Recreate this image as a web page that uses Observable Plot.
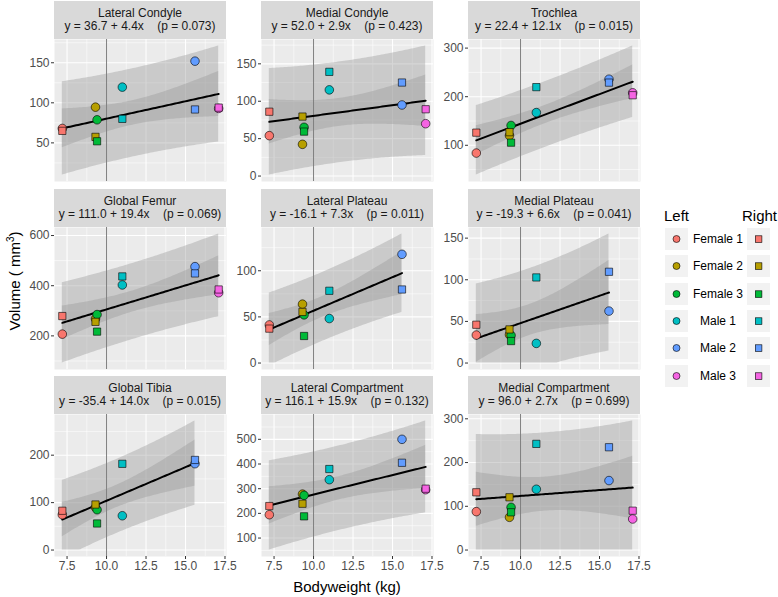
<!DOCTYPE html>
<html>
<head>
<meta charset="utf-8">
<script src="https://cdn.jsdelivr.net/npm/d3@7"></script>
<script src="https://cdn.jsdelivr.net/npm/@observablehq/plot@0.6"></script>
<style>
  body { margin: 0; background: #fff; }
  #chart { position: relative; width: 778px; height: 597px; overflow: hidden; background: #fff;
           font-family: "Liberation Sans", Arial, sans-serif; }
  .strip { position: absolute; background: #d9d9d9; color: #1a1a1a; font-size: 12px; text-align: center;
           white-space: pre; display: flex; flex-direction: column; justify-content: center; line-height: 13px; }
  .panel { position: absolute; overflow: visible; }
  .title { position: absolute; color: #000; font-size: 15px; white-space: nowrap; }
  .lab { position: absolute; color: #000; font-size: 12px; white-space: nowrap; transform: translate(-50%, -50%); }
  .key { position: absolute; width: 23px; height: 22px; background: #f2f2f2; }
</style>
</head>
<body>
<div id="chart"></div>
<script>
// ---------------- data ----------------
const subjects = ["Female 1", "Female 2", "Female 3", "Male 1", "Male 2", "Male 3"];
const subjectColors = ["#F8766D", "#B79F00", "#00BA38", "#00BFC4", "#619CFF", "#F564E3"];
const bodyweight = [7.2, 9.3, 9.4, 11.0, 15.6, 17.1];
const referenceWeight = [10];

const regions = ["Lateral Condyle", "Medial Condyle", "Trochlea",
                 "Global Femur", "Lateral Plateau", "Medial Plateau",
                 "Global Tibia", "Lateral Compartment", "Medial Compartment"];
const equations = ["y = 36.7 + 4.4x    (p = 0.073)", "y = 52.0 + 2.9x    (p = 0.423)", "y = 22.4 + 12.1x    (p = 0.015)",
                   "y = 111.0 + 19.4x    (p = 0.069)", "y = -16.1 + 7.3x    (p = 0.011)", "y = -19.3 + 6.6x    (p = 0.041)",
                   "y = -35.4 + 14.0x    (p = 0.015)", "y = 116.1 + 15.9x    (p = 0.132)", "y = 96.0 + 2.7x    (p = 0.699)"];

// volumes (mm^3), one row per region, in subject order; null = missing
const leftVolume = [
  [68, 94.6, 78.8, 119.6, 152, 93],
  [54, 42.4, 65.2, 115.2, 95, 70],
  [84, 120, 140.8, 167.3, 236, 208],
  [207, 268, 285, 403, 476, 372],
  [41.3, 63.8, 52.2, 48.2, 117.8, null],
  [33.6, 34, 33.2, 23.6, 62.4, null],
  [74.4, 90, 85, 72.3, 182, null],
  [194.6, 278, 273, 336.5, 500, 296],
  [87.8, 74.8, 97.7, 139, 158.8, 71]
];
const rightVolume = [
  [65, 57.5, 52, 80, 91.7, 94],
  [86, 79.5, 59.4, 139.3, 125, 89.3],
  [126, 127, 105.4, 219.7, 229, 203],
  [279, 256, 217, 437, 449, 385],
  [37.3, 55.4, 29.3, 78.3, 79.7, null],
  [46, 40.4, 26.4, 102.8, 109.6, null],
  [82.8, 96, 56, 181.8, 190, null],
  [229.7, 239, 188, 379.7, 405, 300],
  [132, 120.6, 86.3, 242.7, 235, 90]
];

const yTicks = [
  [50, 100, 150], [0, 50, 100, 150], [100, 200, 300],
  [200, 400, 600], [0, 50, 100], [0, 50, 100, 150],
  [0, 100, 200], [100, 200, 300, 400, 500], [0, 100, 200, 300]
];
const xTicks = [7.5, 10, 12.5, 15, 17.5];
const tQuantile975 = {8: 2.306004, 9: 2.262157, 10: 2.228139};

// ---------------- layout ----------------
const colLeft = [54, 261, 468];
const panelTop = [39, 227, 414];
const PW = 172, PH = 142, STRIP = 38, ML = 40, MB = 22;
const font = '"Liberation Sans", Arial, sans-serif';

const chart = document.getElementById("chart");

const [bwMin, bwMax] = d3.extent(bodyweight);
const xPad = (bwMax - bwMin) * 0.05;
const xDomain = [bwMin - xPad, bwMax + xPad];

function minorOf(ticks, domain) {
  const step = ticks[1] - ticks[0];
  const out = [ticks[0] - step / 2];
  for (const t of ticks) out.push(t + step / 2);
  return out.filter(v => v > domain[0] && v < domain[1]);
}

function regression(pts) {
  const n = pts.length;
  const xbar = d3.mean(pts, d => d.w), ybar = d3.mean(pts, d => d.v);
  const sxx = d3.sum(pts, d => (d.w - xbar) ** 2);
  const sxy = d3.sum(pts, d => (d.w - xbar) * (d.v - ybar));
  const b = sxy / sxx, a = ybar - b * xbar;
  const sse = d3.sum(pts, d => (d.v - a - b * d.w) ** 2);
  const s = Math.sqrt(sse / (n - 2));
  const t = tQuantile975[n - 2] || 2.228;
  const [x0, x1] = d3.extent(pts, d => d.w);
  return d3.range(80).map(i => {
    const x = x0 + (x1 - x0) * i / 79;
    const fit = a + b * x;
    const h = 1 / n + (x - xbar) ** 2 / sxx;
    const ci = t * s * Math.sqrt(h), pi = t * s * Math.sqrt(1 + h);
    return {x, fit, ciLo: Math.max(0, fit - ci), ciHi: fit + ci, piLo: Math.max(0, fit - pi), piHi: fit + pi};
  });
}

regions.forEach((region, k) => {
  const row = Math.floor(k / 3), col = k % 3;
  const left = subjects.map((s, i) => ({subject: s, w: bodyweight[i], v: leftVolume[k][i]})).filter(d => d.v != null);
  const right = subjects.map((s, i) => ({subject: s, w: bodyweight[i], v: rightVolume[k][i]})).filter(d => d.v != null);
  const all = left.concat(right);
  const band = regression(all);
  const lo = Math.min(d3.min(band, d => d.piLo), d3.min(all, d => d.v));
  const hi = Math.max(d3.max(band, d => d.piHi), d3.max(all, d => d.v));
  const yPad = (hi - lo) * 0.05;
  const yDomain = [lo - yPad, hi + yPad];
  const bottom = row === 2;

  const strip = document.createElement("div");
  strip.className = "strip";
  Object.assign(strip.style, {left: colLeft[col] + "px", top: (panelTop[row] - STRIP) + "px", width: PW + "px", height: STRIP + "px"});
  const l1 = document.createElement("div"); l1.textContent = region;
  const l2 = document.createElement("div"); l2.textContent = equations[k];
  strip.append(l1, l2);
  chart.append(strip);

  const svg = Plot.plot({
    width: ML + PW,
    height: PH + (bottom ? MB : 0),
    marginLeft: ML, marginRight: 0, marginTop: 0, marginBottom: bottom ? MB : 0,
    style: {fontFamily: font, fontSize: "12px", color: "#4d4d4d", background: "transparent", overflow: "visible"},
    x: {domain: xDomain, axis: null},
    y: {domain: yDomain, axis: null},
    color: {domain: subjects, range: subjectColors},
    marks: [
      Plot.frame({fill: "#ebebeb", stroke: null}),
      Plot.ruleY(minorOf(yTicks[k], yDomain), {stroke: "white", strokeWidth: 0.55}),
      Plot.ruleX(minorOf(xTicks, xDomain), {stroke: "white", strokeWidth: 0.55}),
      Plot.ruleY(yTicks[k].filter(v => v > yDomain[0] && v < yDomain[1]), {stroke: "white", strokeWidth: 1.1}),
      Plot.ruleX(xTicks.filter(v => v > xDomain[0] && v < xDomain[1]), {stroke: "white", strokeWidth: 1.1}),
      Plot.areaY(band, {x: "x", y1: "piLo", y2: "piHi", fill: "#999999", fillOpacity: 0.4}),
      Plot.areaY(band, {x: "x", y1: "ciLo", y2: "ciHi", fill: "#999999", fillOpacity: 0.4}),
      Plot.ruleX(referenceWeight, {stroke: "#7f7f7f", strokeWidth: 1}),
      Plot.line(band, {x: "x", y: "fit", stroke: "black", strokeWidth: 2}),
      Plot.dot(left, {x: "w", y: "v", fill: "subject", symbol: "circle", r: 4.3, stroke: "black", strokeWidth: 0.6}),
      Plot.dot(right, {x: "w", y: "v", fill: "subject", symbol: "square", r: 4.1, stroke: "black", strokeWidth: 0.6}),
      Plot.axisY({ticks: yTicks[k].filter(v => v >= yDomain[0] && v <= yDomain[1]), tickSize: 3, tickPadding: 2, label: null, stroke: "#333"}),
      bottom ? Plot.axisX({ticks: xTicks, tickSize: 3, tickPadding: 2, tickFormat: d3.format(".1f"), label: null, stroke: "#333"}) : null
    ]
  });
  svg.classList.add("panel");
  svg.style.left = (colLeft[col] - ML) + "px";
  svg.style.top = panelTop[row] + "px";
  chart.append(svg);
});

const xt = document.createElement("div");
xt.className = "title";
xt.textContent = "Bodyweight (kg)";
Object.assign(xt.style, {left: (colLeft[0] + (colLeft[2] + PW - colLeft[0]) / 2) + "px", top: "586px", transform: "translate(-50%, -50%)"});
chart.append(xt);

const yt = document.createElement("div");
yt.className = "title";
yt.innerHTML = 'Volume ( mm<sup style="font-size:10px;vertical-align:6px;line-height:0">3</sup>)';
Object.assign(yt.style, {left: "14px", top: "281px", transform: "translate(-50%, -50%) rotate(-90deg)"});
chart.append(yt);

const legTitleY = 215;
[["Left", 664], ["Right", 742]].forEach(([t, x]) => {
  const d = document.createElement("div");
  d.className = "title";
  d.textContent = t;
  Object.assign(d.style, {left: x + "px", top: legTitleY + "px", transform: "translateY(-50%)"});
  chart.append(d);
});
const svgNS = "http://www.w3.org/2000/svg";
subjects.forEach((s, i) => {
  const cy = 239 + i * 27.35;
  [[665, "circle"], [747, "square"]].forEach(([x, shape]) => {
    const key = document.createElement("div");
    key.className = "key";
    Object.assign(key.style, {left: x + "px", top: (cy - 11) + "px"});
    const sv = document.createElementNS(svgNS, "svg");
    sv.setAttribute("width", 23); sv.setAttribute("height", 22);
    let el;
    if (shape === "circle") {
      el = document.createElementNS(svgNS, "circle");
      el.setAttribute("cx", 11.5); el.setAttribute("cy", 11); el.setAttribute("r", 3.5);
    } else {
      el = document.createElementNS(svgNS, "rect");
      el.setAttribute("x", 8.3); el.setAttribute("y", 7.8); el.setAttribute("width", 6.6); el.setAttribute("height", 6.6);
    }
    el.setAttribute("fill", subjectColors[i]);
    el.setAttribute("stroke", "black");
    el.setAttribute("stroke-width", 0.6);
    sv.append(el);
    key.append(sv);
    chart.append(key);
  });
  const lab = document.createElement("div");
  lab.className = "lab";
  lab.textContent = s;
  Object.assign(lab.style, {left: "718px", top: cy + "px"});
  chart.append(lab);
});
</script>
</body>
</html>
